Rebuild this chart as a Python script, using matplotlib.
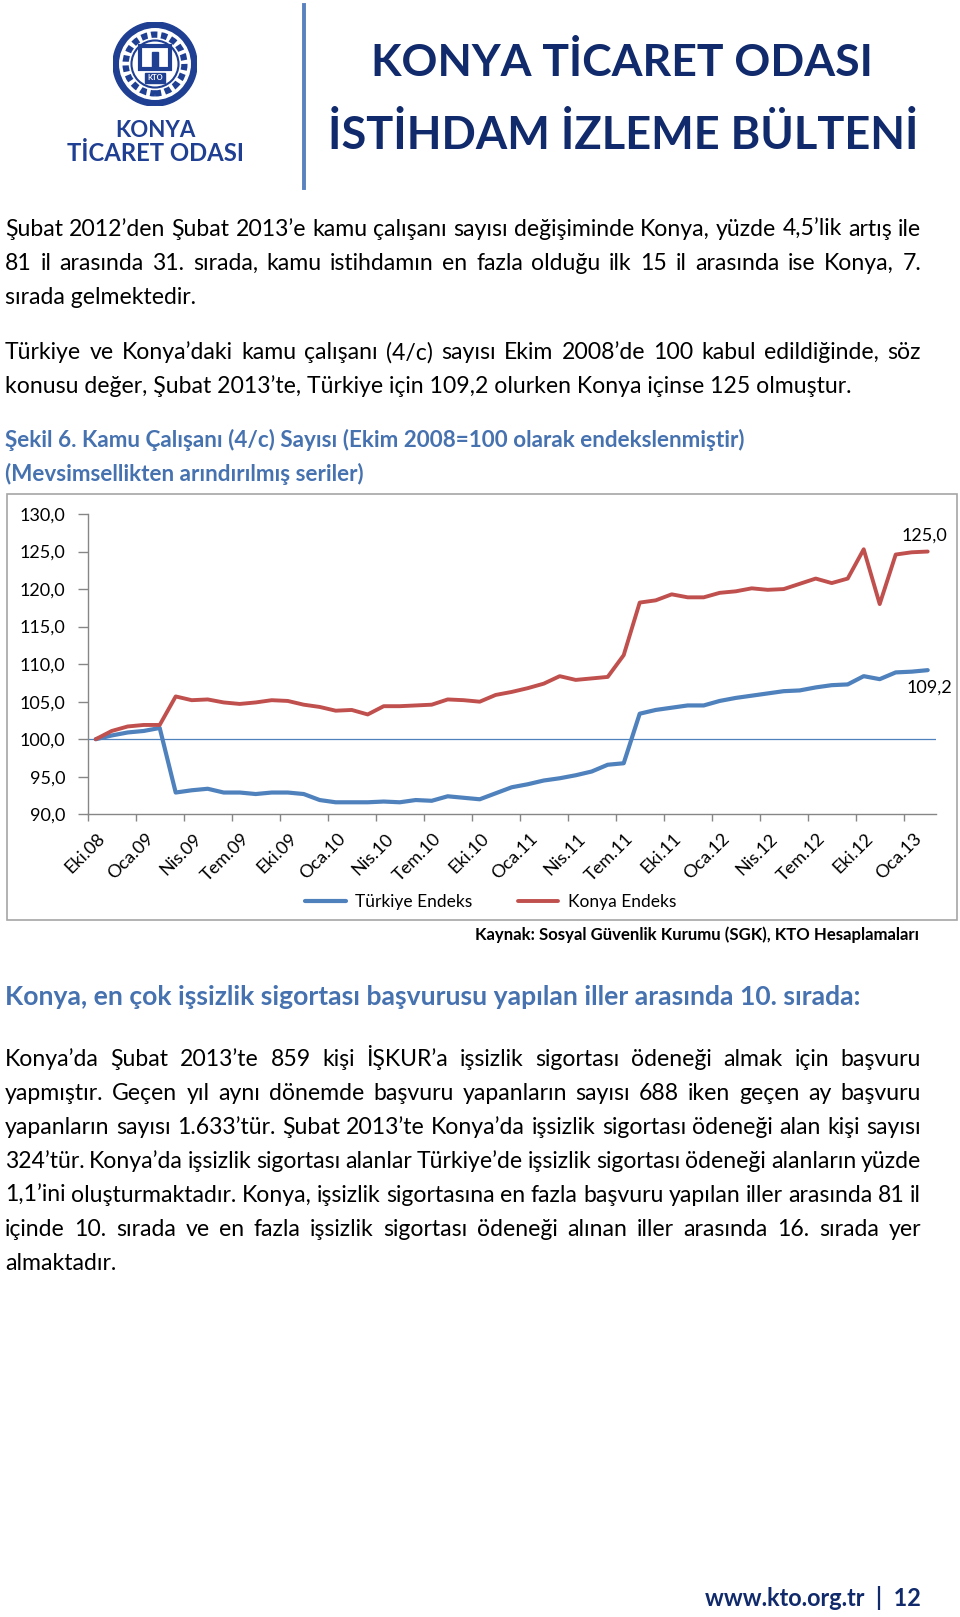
import matplotlib
matplotlib.use('Agg')
import numpy as np
import matplotlib.pyplot as plt
from matplotlib.patches import Circle, Rectangle
from matplotlib.transforms import ScaledTranslation

# =============================================================================
# Data
# =============================================================================
month_names = ['Oca', 'Şub', 'Mar', 'Nis', 'May', 'Haz', 'Tem', 'Ağu', 'Eyl', 'Eki', 'Kas', 'Ara']
start_month, start_year, n_months = 9, 8, 53      # Eki.08 ... Şub.13

turkiye = [100.0, 100.5, 100.9, 101.1, 101.5,
           92.9, 93.2, 93.4, 92.9, 92.9, 92.7, 92.9, 92.9, 92.7,
           91.9, 91.6, 91.6, 91.6, 91.7, 91.6, 91.9, 91.8, 92.4, 92.2, 92.0,
           92.8, 93.6, 94.0, 94.5, 94.8, 95.2, 95.7, 96.6, 96.8,
           103.4, 103.9, 104.2, 104.5, 104.5, 105.1, 105.5, 105.8, 106.1, 106.4,
           106.5, 106.9, 107.2, 107.3, 108.4, 108.0, 108.9, 109.0, 109.2]

konya = [100.0, 101.1, 101.7, 101.9, 101.9,
         105.7, 105.2, 105.3, 104.9, 104.7, 104.9, 105.2, 105.1, 104.6,
         104.3, 103.8, 103.9, 103.3, 104.4, 104.4, 104.5, 104.6, 105.3, 105.2, 105.0,
         105.9, 106.3, 106.8, 107.4, 108.4, 107.9, 108.1, 108.3, 111.2,
         118.2, 118.5, 119.3, 118.9, 118.9, 119.5, 119.7, 120.1, 119.9, 120.0,
         120.7, 121.4, 120.8, 121.4, 125.3, 118.0, 124.6, 124.9, 125.0]

y_ticks = [90, 95, 100, 105, 110, 115, 120, 125, 130]

months = []
for k in range(n_months):
    m = (start_month + k) % 12
    y = start_year + (start_month + k) // 12
    months.append('{}.{:02d}'.format(month_names[m], y))

para1 = ['Şubat 2012’den Şubat 2013’e kamu çalışanı sayısı değişiminde Konya, yüzde 4,5’lik artış ile',
         '81 il arasında 31. sırada, kamu istihdamın en fazla olduğu ilk 15 il arasında ise Konya, 7.',
         'sırada gelmektedir.']
para2 = ['Türkiye ve Konya’daki kamu çalışanı (4/c) sayısı Ekim 2008’de 100 kabul edildiğinde, söz',
         'konusu değer, Şubat 2013’te, Türkiye için 109,2 olurken Konya içinse 125 olmuştur.']
caption = ['Şekil 6. Kamu Çalışanı (4/c) Sayısı (Ekim 2008=100 olarak endekslenmiştir)',
           '(Mevsimsellikten arındırılmış seriler)']
heading = 'Konya, en çok işsizlik sigortası başvurusu yapılan iller arasında 10. sırada:'
para3 = ['Konya’da Şubat 2013’te 859 kişi İŞKUR’a işsizlik sigortası ödeneği almak için başvuru',
         'yapmıştır. Geçen yıl aynı dönemde başvuru yapanların sayısı 688 iken geçen ay başvuru',
         'yapanların sayısı 1.633’tür. Şubat 2013’te Konya’da işsizlik sigortası ödeneği alan kişi sayısı',
         '324’tür. Konya’da işsizlik sigortası alanlar Türkiye’de işsizlik sigortası ödeneği alanların yüzde',
         '1,1’ini oluşturmaktadır. Konya, işsizlik sigortasına en fazla başvuru yapılan iller arasında 81 il',
         'içinde 10. sırada ve en fazla işsizlik sigortası ödeneği alınan iller arasında 16. sırada yer',
         'almaktadır.']
source = 'Kaynak: Sosyal Güvenlik Kurumu (SGK), KTO Hesaplamaları'

# =============================================================================
# Settings
# =============================================================================
W, H = 960, 1617
FONT = ['Lato', 'DejaVu Sans']
plt.rcParams['font.family'] = FONT

NAVY = '#102A6B'
LOGO_BLUE = '#1F3F93'
CAP_BLUE = '#4672B0'
BLUE = '#4F81BD'
RED = '#C0504D'
GREY = '#868686'

fig = plt.figure(figsize=(W / 100, H / 100), dpi=100)
renderer = fig.canvas.get_renderer()


def fx(x):
    return x / W


def fy(y):
    return 1 - y / H


def measure(s, size, weight='normal'):
    t = fig.text(0, 0, s, fontsize=size, fontweight=weight)
    w = t.get_window_extent(renderer=renderer).width
    t.remove()
    return w


def fit(s, width, weight='normal'):
    return 20 * width / measure(s, 20, weight)


def write_line(line, y, size, x0=5, x1=921, justify=True, color='black', weight='normal'):
    # y is the visual middle of the line; words are put on a common baseline
    base = y + 0.27 * size * 100 / 72
    if not justify:
        fig.text(fx(x0), fy(base), line, fontsize=size, color=color, fontweight=weight,
                 va='baseline', ha='left')
        return
    words = line.split(' ')
    widths = [measure(w, size, weight) for w in words]
    gap = (x1 - x0 - sum(widths)) / (len(words) - 1)
    x = x0
    for w, wd in zip(words, widths):
        fig.text(fx(x), fy(base), w, fontsize=size, color=color, fontweight=weight,
                 va='baseline', ha='left')
        x += wd + gap


# =============================================================================
# Header
# =============================================================================
lax = fig.add_axes([fx(113), fy(106), 84 / W, 84 / H])
lax.set_xlim(-1, 1)
lax.set_ylim(-1, 1)
lax.set_aspect('equal')
lax.axis('off')
lax.add_patch(Circle((0, 0), 1.0, color=LOGO_BLUE))
lax.add_patch(Circle((0, 0), 0.84, color='white'))
lax.add_patch(Circle((0, 0), 0.70, fill=False, ec=LOGO_BLUE, lw=4.5, ls=(0, (1.0, 0.6))))
lax.add_patch(Circle((0, 0), 0.56, fill=False, ec=LOGO_BLUE, lw=1.5))
lax.add_patch(Rectangle((-0.36, -0.12), 0.72, 0.55, fill=False, ec=LOGO_BLUE, lw=3))
lax.add_patch(Rectangle((-0.08, -0.12), 0.16, 0.4, color=LOGO_BLUE))
lax.add_patch(Rectangle((-0.24, -0.45), 0.48, 0.24, color=LOGO_BLUE))
lax.text(0, -0.33, 'KTO', color='white', fontsize=5.5, fontweight='bold', ha='center', va='center')

fig.text(fx(155), fy(137), 'KONYA', fontsize=fit('KONYA', 80, 'bold'), fontweight='bold',
         color=LOGO_BLUE, ha='center', va='baseline')
fig.text(fx(155.5), fy(161), 'TİCARET ODASI', fontsize=fit('TİCARET ODASI', 177, 'bold'),
         fontweight='bold', color=LOGO_BLUE, ha='center', va='baseline')

fig.add_artist(plt.Line2D([fx(304), fx(304)], [fy(5), fy(188)], color='#5A82BE', lw=2.8,
                          transform=fig.transFigure))

t1 = 'KONYA TİCARET ODASI'
t2 = 'İSTİHDAM İZLEME BÜLTENİ'
fig.text(fx(621.5), fy(76), t1, fontsize=fit(t1, 501, 'bold'), fontweight='bold', color=NAVY,
         ha='center', va='baseline')
fig.text(fx(623), fy(149), t2, fontsize=fit(t2, 590, 'bold'), fontweight='bold', color=NAVY,
         ha='center', va='baseline')

# =============================================================================
# Body text
# =============================================================================
body_size = fit(para2[1], 847)

for line, y, j in zip(para1, [230, 264, 298], [True, True, False]):
    write_line(line, y, body_size, justify=j)
for line, y, j in zip(para2, [353, 387], [True, False]):
    write_line(line, y, body_size, justify=j)

cap_size = fit(caption[0], 741, 'bold')
for line, y in zip(caption, [441, 475]):
    write_line(line, y, cap_size, justify=False, color=CAP_BLUE, weight='bold')

write_line(heading, 998, fit(heading, 856, 'bold'), justify=False, color=CAP_BLUE, weight='bold')

para3_y = [1060, 1094, 1128, 1162, 1196, 1230, 1264]
for k, (line, y) in enumerate(zip(para3, para3_y)):
    write_line(line, y, body_size, justify=(k < len(para3) - 1))

fig.text(fx(919), fy(935), source, fontsize=fit(source, 446, 'bold'), fontweight='bold',
         ha='right', va='center')

footer = 'www.kto.org.tr  |  12'
fig.text(fx(921), fy(1598), footer, fontsize=fit(footer, 217, 'bold'), fontweight='bold',
         color=NAVY, ha='right', va='center')

# =============================================================================
# Chart
# =============================================================================
fig.add_artist(Rectangle((fx(7), fy(920)), (957 - 7) / W, (920 - 494) / H, transform=fig.transFigure,
                         fill=False, ec='#A6A6A6', lw=1.2))

ax = fig.add_axes([fx(87.7), fy(814.3), (935.7 - 87.7) / W, (814.3 - 514) / H])
x = np.arange(len(turkiye))
ax.axhline(100, color=BLUE, lw=0.9, zorder=1)
ax.plot(x, turkiye, color=BLUE, lw=3.0, solid_joinstyle='round', solid_capstyle='round',
        label='Türkiye Endeks', zorder=3)
ax.plot(x, konya, color=RED, lw=2.8, solid_joinstyle='round', solid_capstyle='round',
        label='Konya Endeks', zorder=3)

ax.set_xlim(-0.5, len(turkiye) - 0.5)
ax.set_ylim(y_ticks[0], y_ticks[-1])
ax.set_yticks(y_ticks)
ax.set_yticklabels(['{:.1f}'.format(v).replace('.', ',') for v in y_ticks])
ax.set_xticks(np.arange(-0.5, len(turkiye) - 1, 3))
ax.tick_params(axis='y', direction='out', length=7, width=1, color=GREY, pad=9, labelsize=13)
ax.tick_params(axis='x', direction='out', length=5, width=1, color=GREY, labelbottom=False)
for side in ['top', 'right']:
    ax.spines[side].set_visible(False)
for side in ['left', 'bottom']:
    ax.spines[side].set_color(GREY)
    ax.spines[side].set_linewidth(1)

lab_trans = ax.get_xaxis_transform() + ScaledTranslation(7 / 100, -22 / 100, fig.dpi_scale_trans)
for i in range(0, len(months), 3):
    ax.text(i, 0, months[i], transform=lab_trans, rotation=45, rotation_mode='anchor',
            ha='right', va='center', fontsize=13)

ax.annotate('{:.1f}'.format(konya[-1]).replace('.', ','), (x[-1], konya[-1]), xytext=(-3, 16),
            textcoords='offset pixels', ha='center', va='center', fontsize=13)
ax.annotate('{:.1f}'.format(turkiye[-1]).replace('.', ','), (x[-1], turkiye[-1]), xytext=(2, -17),
            textcoords='offset pixels', ha='center', va='center', fontsize=13)

ax.legend(loc='center', bbox_to_anchor=(fx(490.5), fy(902)), bbox_transform=fig.transFigure,
          ncol=2, frameon=False, fontsize=12.5, handlelength=2.36, handletextpad=0.55,
          columnspacing=2.6, borderaxespad=0, borderpad=0)

fig.savefig('out.png', dpi=100)
